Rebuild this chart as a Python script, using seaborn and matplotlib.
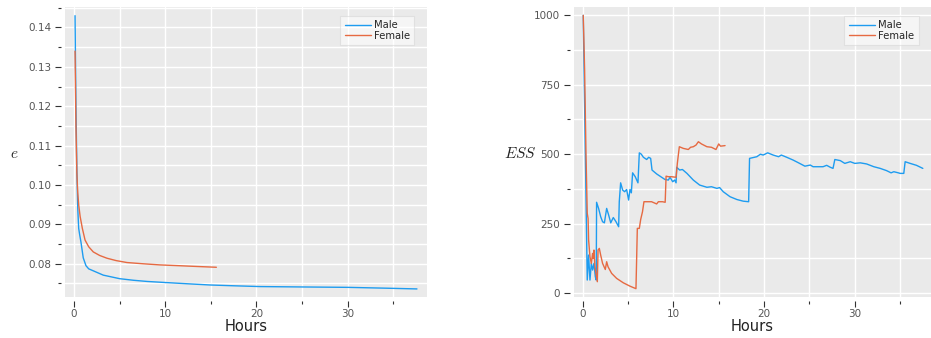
import numpy as np
import pandas as pd
import seaborn as sns
import matplotlib
matplotlib.use("Agg")
import matplotlib.pyplot as plt
from matplotlib.ticker import MultipleLocator

# ---- error e over time ----
male_e_hours = [0.1, 0.2, 0.3, 0.4, 0.5, 0.6, 0.75, 1.0, 1.3, 1.6, 2.0, 2.5, 3.2,
                4.0, 5.0, 6.5, 8.0, 10.2, 12.5, 14.9, 17.5, 20.4, 25.0, 30.0, 34.0, 37.6]
male_e = [0.143, 0.120, 0.104, 0.094, 0.089, 0.0875, 0.0855, 0.0815, 0.0795, 0.0787,
          0.0783, 0.0778, 0.0771, 0.0767, 0.0762, 0.0758, 0.0755, 0.0752, 0.0749,
          0.0746, 0.0744, 0.0742, 0.0741, 0.0740, 0.0738, 0.0736]

female_e_hours = [0.1, 0.2, 0.3, 0.4, 0.5, 0.66, 0.9, 1.2, 1.6, 2.1, 2.8, 3.6, 4.6,
                  5.8, 7.5, 9.4, 11.5, 13.5, 15.6]
female_e = [0.134, 0.115, 0.103, 0.098, 0.095, 0.092, 0.089, 0.0860, 0.0843, 0.0830,
            0.0821, 0.0814, 0.0808, 0.0803, 0.0800, 0.0797, 0.0795, 0.0793, 0.0791]

# ---- effective sample size over time ----
male_ess_hours = [0.07, 0.51, 0.66, 0.81, 0.96, 1.1, 1.25, 1.4, 1.5, 1.54, 1.76, 1.99,
                  2.2, 2.4, 2.65, 2.87, 3.1, 3.38, 3.68, 3.97, 4.04, 4.19, 4.41, 4.63,
                  4.85, 5.07, 5.22, 5.37, 5.51, 5.8, 6.1, 6.25, 6.47, 6.7, 7.06, 7.28,
                  7.5, 7.65, 8.16, 8.71, 9.08, 9.45, 9.63, 9.93, 10.15, 10.3, 10.37,
                  10.7, 11.0, 11.5, 12.2, 12.9, 13.7, 14.2, 14.8, 15.1, 15.5, 16.25,
                  17.0, 17.7, 18.3, 18.4, 19.2, 19.6, 19.9, 20.4, 21.0, 21.6, 21.9,
                  22.5, 23.2, 23.8, 24.5, 25.1, 25.4, 26.5, 26.9, 27.3, 27.6, 27.8,
                  28.4, 28.9, 29.5, 30.0, 30.6, 31.3, 32.1, 32.8, 33.5, 34.0, 34.3,
                  34.8, 35.0, 35.4, 35.55, 36.1, 36.8, 37.5]
male_ess = [1000, 47, 137, 47, 107, 83, 107, 59, 47, 327, 305, 275, 257, 253, 305, 281,
            253, 272, 257, 239, 329, 397, 371, 365, 373, 335, 373, 361, 433, 419, 397,
            505, 500, 489, 481, 489, 485, 443, 429, 417, 409, 407, 417, 401, 407, 397,
            453, 443, 445, 431, 407, 389, 381, 383, 377, 380, 365, 347, 337, 331, 329,
            485, 491, 500, 497, 505, 497, 491, 497, 489, 479, 469, 457, 461, 455, 455,
            460, 453, 449, 481, 477, 467, 473, 467, 469, 465, 455, 449, 441, 433, 437,
            433, 431, 431, 473, 467, 460, 449]

female_ess_hours = [0.07, 0.22, 0.37, 0.51, 0.6, 0.66, 0.81, 0.96, 1.1, 1.18, 1.25,
                    1.36, 1.47, 1.62, 1.7, 1.84, 1.99, 2.2, 2.5, 2.65, 2.8, 3.2, 3.75,
                    4.49, 5.22, 5.88, 6.03, 6.25, 6.4, 6.6, 6.76, 7.06, 7.6, 8.16, 8.35,
                    8.8, 9.1, 9.2, 9.45, 9.8, 10.3, 10.44, 10.66, 11.1, 11.65, 11.9,
                    12.2, 12.5, 12.76, 13.1, 13.7, 14.2, 14.7, 15.0, 15.2, 15.7]
female_ess = [1000, 803, 503, 287, 269, 191, 131, 107, 143, 125, 155, 95, 71, 41, 155,
              161, 137, 107, 85, 113, 95, 71, 53, 37, 25, 16, 233, 233, 265, 293, 329,
              329, 329, 321, 329, 329, 327, 421, 419, 419, 417, 467, 527, 521, 517, 525,
              527, 533, 545, 537, 527, 525, 517, 537, 529, 531]

groups = ["Male", "Female"]
palette = {"Male": "#1E9CF0", "Female": "#E66A42"}

e_df = pd.concat([
    pd.DataFrame({"Hours": male_e_hours, "value": male_e, "sex": "Male"}),
    pd.DataFrame({"Hours": female_e_hours, "value": female_e, "sex": "Female"}),
], ignore_index=True)
ess_df = pd.concat([
    pd.DataFrame({"Hours": male_ess_hours, "value": male_ess, "sex": "Male"}),
    pd.DataFrame({"Hours": female_ess_hours, "value": female_ess, "sex": "Female"}),
], ignore_index=True)

sns.set_theme(style="white")
plt.rcParams["font.family"] = ["DejaVu Sans"]
plt.rcParams["mathtext.fontset"] = "cm"

fig = plt.figure(figsize=(9.31, 3.38), dpi=100)
ax1 = fig.add_axes([65 / 931, 41 / 338, 362 / 931, 290 / 338])
ax2 = fig.add_axes([574 / 931, 41 / 338, 357 / 931, 290 / 338])


def style_axes(ax, ylabel, ymajor, yminor, ylim, xlim, label_x):
    ax.set_facecolor("#EAEAEA")
    ax.set_xlim(*xlim)
    ax.set_ylim(*ylim)
    ax.xaxis.set_major_locator(MultipleLocator(10))
    ax.xaxis.set_minor_locator(MultipleLocator(5))
    ax.yaxis.set_major_locator(MultipleLocator(ymajor))
    ax.yaxis.set_minor_locator(MultipleLocator(yminor))
    ax.grid(which="both", color="white", linewidth=1.0)
    ax.set_axisbelow(True)
    for side in ["top", "right"]:
        ax.spines[side].set_visible(False)
    for side in ["left", "bottom"]:
        ax.spines[side].set_position(("outward", 3))
        ax.spines[side].set_visible(False)
    ax.tick_params(which="major", length=4, width=0.8, color="#333333",
                   labelsize=7.5, labelcolor="#555555", pad=3,
                   left=True, bottom=True)
    ax.tick_params(axis="x", which="major", pad=1.5)
    ax.tick_params(which="minor", length=2, width=0.8, color="#333333",
                   left=True, bottom=True)
    ax.set_xlabel("Hours", fontsize=10.5, color="#222222", labelpad=0)
    ax.set_ylabel(ylabel, fontsize=11, rotation=0, color="#222222")
    ax.yaxis.set_label_coords(label_x, 0.47)
    leg = ax.legend(loc="upper right", bbox_to_anchor=(0.965, 0.97), fontsize=7.2,
                    frameon=True, fancybox=False, framealpha=0.55,
                    edgecolor="#D5D5D5", facecolor="white", handlelength=2.6,
                    labelspacing=0.05, borderpad=0.45, handletextpad=0.3,
                    borderaxespad=0.0)
    leg.get_frame().set_linewidth(0.8)


sns.lineplot(data=e_df, x="Hours", y="value", hue="sex", hue_order=groups,
             palette=palette, estimator=None, sort=False, linewidth=1.0, ax=ax1)
sns.lineplot(data=ess_df, x="Hours", y="value", hue="sex", hue_order=groups,
             palette=palette, estimator=None, sort=False, linewidth=1.0, ax=ax2)
for ax in (ax1, ax2):
    if ax.get_legend():
        ax.get_legend().remove()

style_axes(ax1, r"$e$", 0.01, 0.005, (0.07155, 0.1452), (-1.0, 38.7), -0.14)
style_axes(ax2, r"$ESS$", 250, 125, (-14, 1030), (-0.95, 38.4), -0.15)

fig.savefig("out.png", dpi=100)
